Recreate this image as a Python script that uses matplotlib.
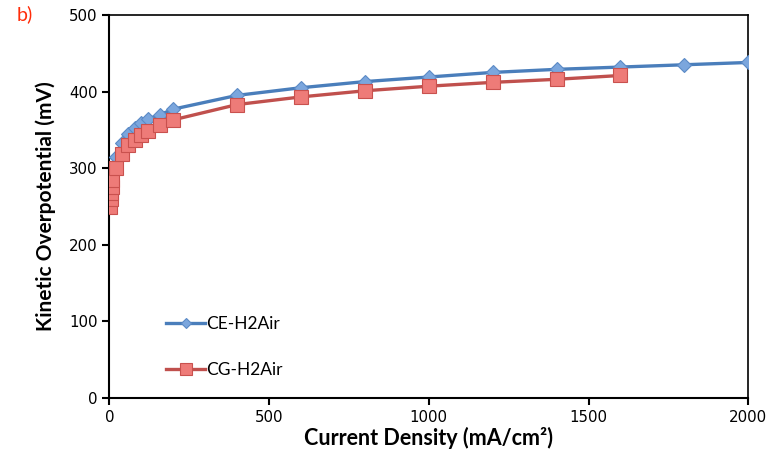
import matplotlib.pyplot as plt

# Current density (mA/cm2) and kinetic overpotential (mV)
ce_x = [2, 4, 6, 8, 10, 20, 40, 60, 80, 100, 120, 160, 200, 400, 600, 800, 1000, 1200, 1400, 1600, 1800, 2000]
ce_y = [265, 274, 282, 290, 298, 315, 333, 345, 353, 359, 364, 370, 377, 395, 405, 413, 419, 425, 429, 432, 435, 438]

cg_x = [2, 4, 6, 8, 10, 20, 40, 60, 80, 100, 120, 160, 200, 400, 600, 800, 1000, 1200, 1400, 1600]
cg_y = [249, 259, 267, 275, 284, 300, 319, 330, 337, 343, 348, 356, 363, 383, 393, 401, 407, 412, 416, 421]

xticks = [0, 500, 1000, 1500, 2000]
yticks = [0, 100, 200, 300, 400, 500]

fig = plt.figure(figsize=(7.68, 4.69), dpi=100)
ax = fig.add_axes([0.1423, 0.152, 0.8320, 0.816])

ax.plot(ce_x, ce_y, color='#4a7ebb', lw=2.4, marker='D', ms=6.8,
        mfc='#7ba6dd', mec='#5b8ac6', mew=0.8, label='CE-H2Air', zorder=3)
ax.plot(cg_x, cg_y, color='#c0504d', lw=2.4, marker='s', ms=10,
        mfc='#ee7b78', mec='#c9514e', mew=0.8, label='CG-H2Air', zorder=4)

ax.set_xlim(0, 2000)
ax.set_ylim(0, 500)
ax.set_xticks(xticks)
ax.set_yticks(yticks)
ax.tick_params(axis='both', labelsize=10.8, direction='out', length=5, width=1.5, color='black')
ax.tick_params(axis='x', pad=4)
for s in ax.spines.values():
    s.set_linewidth(1.5)
ax.spines['top'].set_linewidth(1.2)
ax.spines['right'].set_linewidth(1.2)

ax.set_xlabel('Current Density (mA/cm²)', fontsize=15.5, fontweight='bold',
              family='Lato', labelpad=1)
ax.set_ylabel('Kinetic Overpotential (mV)', fontsize=15, fontweight='bold',
              family='Lato', labelpad=9)

leg = ax.legend(loc='lower left', bbox_to_anchor=(0.065, 0.01), frameon=False,
                prop={'family': 'Lato', 'size': 12.5}, labelspacing=1.75,
                handlelength=2.2, handletextpad=0.1, markerscale=0.8)

fig.text(0.022, 0.956, 'b)', color='#ff2d0a', fontsize=14, family='Lato')

fig.savefig('out.png', dpi=100)
